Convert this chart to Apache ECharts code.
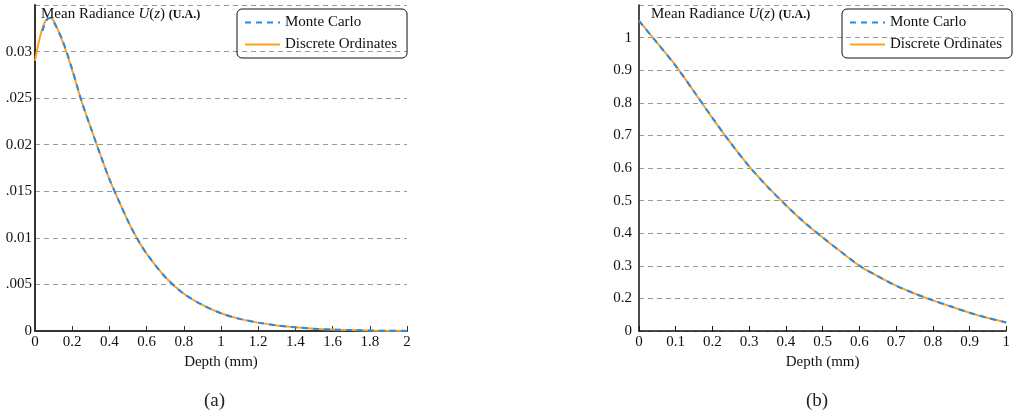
<!DOCTYPE html>
<html><head><meta charset="utf-8">
<script src="https://cdn.jsdelivr.net/npm/echarts@6/dist/echarts.min.js"></script>
<style>html,body{margin:0;padding:0;background:#fff}#c{width:1013px;height:415px}</style>
</head><body><div id="c"></div>
<script>
// (a) depth (mm) and mean radiance
const depthA = [0, 0.02, 0.04, 0.06, 0.08, 0.1, 0.15, 0.2, 0.25, 0.3, 0.35, 0.4, 0.45, 0.5, 0.55, 0.6, 0.7, 0.8, 0.9, 1.0, 1.1, 1.2, 1.3, 1.4, 1.5, 1.6, 1.7, 1.8, 1.9, 2.0];
const doA    = [0.0290, 0.0310, 0.0325, 0.0334, 0.0336, 0.0333, 0.0310, 0.0280, 0.0247, 0.0218, 0.0190, 0.0163, 0.0140, 0.0118, 0.0099, 0.0083, 0.0058, 0.0040, 0.0028, 0.0019, 0.0013, 0.0009, 0.0006, 0.0004, 0.00025, 0.00015, 0.0001, 0.00005, 0.00003, 0.00001];
const mcDepthA = [0.04, 0.06, 0.08, 0.1, 0.15, 0.2, 0.25, 0.3, 0.35, 0.4, 0.45, 0.5, 0.55, 0.6, 0.7, 0.8, 0.9, 1.0, 1.1, 1.2, 1.3, 1.4, 1.5, 1.6, 1.7, 1.8, 1.9, 2.0];
const mcA      = [0.0322, 0.0333, 0.0336, 0.0332, 0.0311, 0.0281, 0.0247, 0.0218, 0.0190, 0.0163, 0.0140, 0.0118, 0.0099, 0.0083, 0.0058, 0.0040, 0.0028, 0.0019, 0.0013, 0.0009, 0.0006, 0.0004, 0.00025, 0.00015, 0.0001, 0.00005, 0.00003, 0.00001];
const yLabelsA = ['0', '.005', '0.01', '.015', '0.02', '.025', '0.03', ''];

// (b)
const depthB = [0, 0.05, 0.1, 0.15, 0.2, 0.25, 0.3, 0.35, 0.4, 0.45, 0.5, 0.55, 0.6, 0.65, 0.7, 0.75, 0.8, 0.85, 0.9, 0.95, 1.0];
const doB    = [1.052, 0.983, 0.914, 0.834, 0.753, 0.676, 0.605, 0.543, 0.486, 0.433, 0.387, 0.343, 0.300, 0.268, 0.239, 0.215, 0.194, 0.175, 0.156, 0.140, 0.126];
const mcB    = [1.051, 0.983, 0.913, 0.834, 0.754, 0.676, 0.605, 0.542, 0.486, 0.434, 0.387, 0.343, 0.301, 0.268, 0.239, 0.215, 0.194, 0.175, 0.156, 0.140, 0.126];
const yLabelsB = ['0', '0.2', '0.3', '0.4', '0.5', '0.6', '0.7', '0.8', '0.9', '1', ''];

const seriesNames = ['Monte Carlo', 'Discrete Ordinates'];
const FONT = "'Liberation Serif','Times New Roman',serif";
const BLUE = '#1E8CF0', ORANGE = '#FFA21F';

const pairs = (xs, ys) => xs.map((x, i) => [x, ys[i]]);

function xAx(idx, max, interval, axisColor, w) {
  return {
    type: 'value', gridIndex: idx, min: 0, max: max, interval: interval,
    name: 'Depth (mm)', nameLocation: 'middle', nameGap: 22,
    nameTextStyle: { fontFamily: FONT, fontSize: 15, color: '#111' },
    axisLine: { lineStyle: { color: axisColor, width: w } },
    axisTick: { inside: true, length: 5, lineStyle: { color: axisColor, width: 1 } },
    axisLabel: { margin: 4, fontFamily: FONT, fontSize: 15, color: '#111' },
    splitLine: { show: false }
  };
}
function yAx(idx, min, max, interval, labels, margin, axisColor, w) {
  return {
    type: 'value', gridIndex: idx, min: min, max: max, interval: interval,
    axisLine: { show: true, lineStyle: { color: axisColor, width: w } },
    axisTick: { show: false },
    axisLabel: {
      margin: margin, fontFamily: FONT, fontSize: 15, color: '#111',
      formatter: v => labels[Math.round((v - min) / interval)] ?? ''
    },
    splitLine: { show: true, lineStyle: { type: [5, 4], color: '#999', width: 1 } }
  };
}
function legend(left) {
  return {
    data: seriesNames, orient: 'vertical', left: left, top: 9,
    itemWidth: 35, itemHeight: 14, itemGap: 7,
    padding: [6, 10, 6, 7],
    borderColor: '#111', borderWidth: 1, borderRadius: 5,
    itemStyle: { opacity: 0 },
    textStyle: { fontFamily: FONT, fontSize: 15, color: '#111' }
  };
}
const titleRich = {
  a: { fontFamily: FONT, fontSize: 15, fontWeight: 'normal', color: '#111' },
  i: { fontFamily: FONT, fontSize: 15, fontWeight: 'normal', fontStyle: 'italic', color: '#111' },
  b: { fontFamily: FONT, fontSize: 12, fontWeight: 'bold', color: '#111' }
};
const titleText = '{a|Mean Radiance }{i|U}{a|(}{i|z}{a|) }{b|(U.A.)}';

function doSeries(xi, data) {
  return { name: seriesNames[1], type: 'line', xAxisIndex: xi, yAxisIndex: xi, data: data,
    symbol: 'none', smooth: 0.3, lineStyle: { color: ORANGE, width: 2 }, itemStyle: { color: ORANGE }, z: 2 };
}
function mcSeries(xi, data) {
  return { name: seriesNames[0], type: 'line', xAxisIndex: xi, yAxisIndex: xi, data: data,
    symbol: 'none', smooth: 0.3, lineStyle: { color: BLUE, width: 2, type: [6, 5] }, itemStyle: { color: BLUE }, z: 3 };
}

const chart = echarts.init(document.getElementById('c'));
chart.setOption({
  animation: false,
  backgroundColor: '#fff',
  title: [
    { text: titleText, left: 36, top: 2, textStyle: { fontWeight: 'normal', rich: titleRich } },
    { text: titleText, left: 646, top: 2, textStyle: { fontWeight: 'normal', rich: titleRich } },
    { text: '(a)', left: 199, top: 387, textStyle: { fontFamily: FONT, fontSize: 19, fontWeight: 'normal', color: '#222' } },
    { text: '(b)', left: 801, top: 387, textStyle: { fontFamily: FONT, fontSize: 19, fontWeight: 'normal', color: '#222' } }
  ],
  legend: [legend(237), legend(842)],
  grid: [
    { left: 35, right: 606, top: 5, bottom: 84 },
    { left: 639, right: 1, top: 5, bottom: 84 }
  ],
  xAxis: [xAx(0, 2, 0.2, '#333', 2), xAx(1, 1, 0.1, '#111', 1.5)],
  yAxis: [yAx(0, 0, 0.035, 0.005, yLabelsA, 3, '#333', 2), yAx(1, 0.1, 1.1, 0.1, yLabelsB, 7, '#111', 1.5)],
  series: [
    doSeries(0, pairs(depthA, doA)),
    mcSeries(0, pairs(mcDepthA, mcA)),
    doSeries(1, pairs(depthB, doB)),
    mcSeries(1, pairs(depthB, mcB))
  ]
});
</script></body></html>
